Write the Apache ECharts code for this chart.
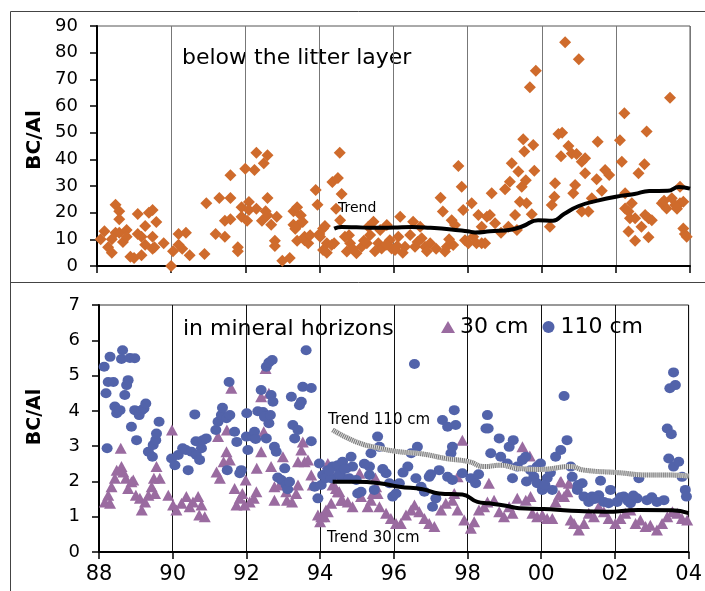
<!DOCTYPE html>
<html>
<head>
<meta charset="utf-8">
<script src="https://cdn.jsdelivr.net/npm/echarts@6/dist/echarts.min.js"></script>
<style>
  html, body { margin: 0; padding: 0; background: #fff; }
  #chart { width: 705px; height: 591px; }
</style>
</head>
<body>
<div id="chart"></div>
<script>
// year axis ticks (88 .. 04)
var yearTicks = [88, 90, 92, 94, 96, 98, 100, 102, 104];

// below the litter layer
var litterYear = [88.1, 88.2, 88.3, 88.4, 88.4, 88.5, 88.5, 88.6, 88.6, 88.6, 88.7, 88.8, 88.8, 88.9, 89.0, 89.1, 89.1, 89.2, 89.2, 89.3,
  89.3, 89.4, 89.5, 89.5, 89.5, 89.55, 89.6, 89.8, 90.0, 90.05, 90.2, 90.2, 90.3, 90.4, 90.5, 90.9, 90.95, 91.2, 91.3, 91.45,
  91.45, 91.6, 91.6, 91.6, 91.8, 91.8, 91.9, 91.9, 92.0, 92.05, 92.1, 92.1, 92.25, 92.3, 92.3, 92.45, 92.5, 92.55, 92.6, 92.6,
  92.6, 92.7, 92.8, 92.8, 92.85, 93.0, 93.2, 93.3, 93.3, 93.35, 93.4, 93.4, 93.43, 93.5, 93.55, 93.6, 93.6, 93.7, 93.75, 93.9,
  93.95, 94.0, 94.02, 94.1, 94.1, 94.15, 94.2, 94.2, 94.33, 94.35, 94.4, 94.45, 94.5, 94.55, 94.56, 94.6, 94.69, 94.74, 94.8, 94.83,
  95.0, 95.14, 95.28, 95.32, 95.37, 95.46, 95.59, 95.64, 95.68, 95.82, 95.9, 95.95, 96.04, 96.13, 96.18, 96.31, 96.45, 96.53, 96.58, 96.72,
  96.76, 96.85, 96.99, 97.27, 97.33, 97.39, 97.44, 97.57, 97.61, 97.66, 97.75, 97.84, 97.88, 97.93, 98.02, 98.11, 98.24, 98.29, 98.38, 98.38,
  98.47, 98.52, 98.6, 98.65, 98.74, 99.01, 99.1, 99.14, 99.19, 99.28, 99.33, 99.37, 99.41, 99.46, 99.5, 99.53, 99.57, 99.59, 99.68, 99.73,
  99.77, 99.8, 99.84, 100.22, 100.27, 100.34, 100.36, 100.45, 100.52, 100.55, 100.63, 100.72, 100.81, 100.85, 100.9, 100.94, 101.0, 101.08, 101.08, 101.17,
  101.17, 101.26, 101.35, 101.48, 101.51, 101.62, 101.71, 101.82, 102.11, 102.16, 102.23, 102.25, 102.25, 102.34, 102.34, 102.38, 102.43, 102.52, 102.52, 102.61,
  102.69, 102.77, 102.79, 102.83, 102.88, 102.88, 102.97, 103.24, 103.37, 103.46, 103.51, 103.6, 103.73, 103.73, 103.82, 103.82, 103.86, 103.91,
  94.9, 95.2, 95.5, 95.8, 96.1, 96.25, 96.65, 96.9, 97.15, 97.5, 98.15, 98.9, 103.3, 103.65];
var litterBC = [10, 13, 7, 5, 10, 23, 12.5, 20.5, 17.5, 12.5, 9, 13.5, 11, 3.5, 3, 19.5, 12, 11, 4, 8,
  15, 20, 21, 11, 6.5, 7, 16.5, 8.5, 0, 5.5, 8, 12, 6.5, 12.5, 4, 4.5, 23.5, 12, 25.5, 11,
  17, 17.5, 25.5, 34, 7, 5.5, 22, 18.5, 36.5, 17, 24, 21, 36, 42.5, 21.5, 17, 38.5, 20.5, 41.5, 25.5,
  19, 15.5, 9.5, 7.5, 18.5, 2, 3, 20.5, 15.5, 14, 22, 9.5, 15.4, 19, 16.5, 11, 9.7, 8.5, 11.5, 28.5,
  23, 12, 11, 6, 14.1, 15, 5, 8.5, 7.9, 31.5, 8.5, 21.5, 33, 42.5, 17.2, 27, 11, 5.4, 11.5, 8.5,
  4.8, 7.2, 8.5, 14.7, 11.6, 16.6, 8.5, 13.5, 6.6, 15.4, 9.7, 6.6, 6, 11, 18.5, 7.2, 11.6, 16.6, 7.2, 14.7,
  10.4, 7.2, 8.5, 25.6, 20.4, 5.4, 7.2, 17.2, 7.9, 15.4, 37.5, 29.7, 21, 9.7, 8.5, 23.5, 8.5, 19.1, 14.7, 8.5,
  8.5, 18.5, 19.1, 27.3, 16, 28.8, 14.7, 31.6, 38.5, 19.1, 13.5, 35.4, 24.1, 29.7, 47.5, 42.9, 32.2, 23.5, 67, 19.4,
  45.4, 35.7, 73.2, 14.7, 22.9, 26, 31, 49.5, 41.2, 50, 83.9, 45, 42.2, 27.3, 30.4, 42, 77.5, 39.1, 20.4, 40.4,
  34.8, 20.4, 25.4, 32.5, 46.6, 28.2, 36, 34.1, 47.2, 39.1, 57.3, 27.3, 21.6, 20.4, 12.9, 17.9, 23.5, 17.9, 9.5, 34.8,
  14.7, 38.2, 19.1, 50.4, 17.9, 10.8, 17.2, 23.5, 21.6, 63.1, 25.4, 22.9, 23.5, 29.7, 24.1, 14.1, 12, 11,
  6.5, 9.5, 5.5, 8, 7.5, 5, 9, 5.5, 6.5, 10, 11, 12.5, 24.5, 21.5];
var litterTrendYear = [94.4, 94.6, 95, 95.5, 96, 96.5, 97, 97.5, 98, 98.2, 98.6, 99.2, 99.5, 99.9, 100.3, 100.6, 101.0, 101.5, 102.0, 102.5, 102.9, 103.4, 103.7, 104];
var litterTrendBC = [14, 14.6, 14.5, 14.3, 14.4, 14.6, 14.3, 13.8, 13, 12.6, 13, 13.7, 15, 17.2, 17, 19.5, 22.5, 24.5, 26, 27, 28.1, 28.2, 29.6, 29];

// in mineral horizons, 30 cm
var m30Year = [88.16, 88.25, 88.3, 88.34, 88.43, 88.48, 88.59, 88.61, 88.66, 88.73, 88.79, 88.88, 88.93, 89.0, 89.11, 89.16, 89.25, 89.34, 89.43, 89.49,
  89.52, 89.56, 89.65, 89.88, 89.98, 90.01, 90.1, 90.24, 90.37, 90.46, 90.55, 90.69, 90.72, 90.78, 90.87, 91.19, 91.23, 91.28, 91.38, 91.46,
  91.47, 91.55, 91.59, 91.68, 91.73, 91.82, 91.89, 91.95, 91.98, 92.09, 92.2, 92.27, 92.28, 92.4, 92.4, 92.47, 92.52, 92.61, 92.67, 92.76,
  92.76, 92.9, 92.99, 93.08, 93.1, 93.24, 93.35, 93.4, 93.4, 93.49, 93.53, 93.58, 93.67, 93.76, 93.8, 93.94, 94.0, 94.03, 94.12, 94.16,
  94.21, 94.21, 94.3, 94.3, 94.34, 94.43, 94.48, 94.52, 94.57, 94.61, 94.75, 94.88, 95.07, 95.11, 95.29, 95.38, 95.43, 95.5, 95.52, 95.56,
  95.61, 95.79, 95.92, 96.06, 96.19, 96.33, 96.47, 96.56, 96.69, 96.83, 96.96, 97.1, 97.28, 97.41, 97.59, 97.64, 97.73, 97.73, 97.86, 97.91,
  98.09, 98.18, 98.31, 98.45, 98.54, 98.58, 98.72, 98.86, 98.99, 99.13, 99.22, 99.35, 99.49, 99.58, 99.69, 99.71, 99.76, 99.89, 100.03, 100.16,
  100.3, 100.39, 100.48, 100.52, 100.54, 100.62, 100.71, 100.75, 100.8, 100.89, 101.02, 101.16, 101.29, 101.43, 101.56, 101.7, 101.83, 102.01, 102.15, 102.28,
  102.42, 102.56, 102.69, 102.83, 102.96, 103.14, 103.28, 103.42, 103.56, 103.69, 103.82, 103.96];
var m30BC = [1.42, 1.61, 1.38, 1.85, 2.09, 2.32, 2.94, 2.42, 2.27, 2.09, 1.8, 1.99, 2.04, 1.61, 1.52, 1.19, 1.42, 1.61, 1.85, 2.09,
  1.66, 2.42, 2.09, 1.61, 3.46, 1.33, 1.19, 1.38, 1.57, 1.28, 1.42, 1.57, 1.05, 1.33, 1.0, 2.27, 3.27, 2.09, 2.56, 2.84,
  3.46, 2.61, 4.64, 1.8, 1.33, 1.52, 1.66, 1.33, 2.04, 1.42, 1.52, 1.71, 2.37, 2.84, 4.4, 3.41, 5.2, 4.5, 2.42, 1.85,
  1.47, 1.9, 2.7, 1.71, 1.47, 1.42, 1.66, 1.9, 2.56, 2.89, 3.12, 2.56, 2.61, 2.18, 1.9, 1.05, 0.86, 1.0, 1.0, 1.19,
  1.14, 2.51, 1.38, 2.2, 1.9, 1.8, 1.71, 1.71, 1.47, 1.47, 1.42, 1.28, 2.23, 1.57, 1.28, 1.47, 1.66, 2.1, 1.85, 1.66,
  1.28, 1.1, 0.95, 0.81, 0.81, 1.05, 1.19, 1.33, 1.14, 0.95, 0.81, 0.72, 1.19, 1.38, 1.47, 1.66, 1.19, 2.13, 3.17, 0.91,
  0.67, 0.86, 1.19, 1.28, 1.42, 1.95, 1.47, 1.14, 1.0, 1.28, 1.1, 1.52, 2.98, 1.47, 2.72, 1.57, 1.1, 1.0, 1.05, 0.95,
  0.95, 1.42, 1.61, 1.99, 1.99, 1.57, 1.71, 1.95, 0.91, 0.81, 0.62, 0.81, 1.1, 1.0, 1.28, 1.14, 0.95, 0.81, 0.95, 1.1,
  1.19, 0.81, 0.91, 0.72, 0.76, 0.62, 0.81, 1.0, 1.14, 1.1, 0.95, 0.91];

// in mineral horizons, 110 cm
var m110Year = [88.14, 88.19, 88.22, 88.25, 88.3, 88.39, 88.43, 88.48, 88.57, 88.61, 88.64, 88.7, 88.75, 88.79, 88.84, 88.88, 88.97, 88.97, 89.02, 89.09,
  89.16, 89.22, 89.27, 89.34, 89.45, 89.47, 89.54, 89.56, 89.63, 89.97, 90.06, 90.15, 90.27, 90.36, 90.42, 90.51, 90.6, 90.63, 90.64, 90.73,
  90.78, 90.82, 90.91, 91.17, 91.23, 91.32, 91.35, 91.46, 91.48, 91.53, 91.55, 91.68, 91.74, 91.82, 91.86, 92.0, 92.01, 92.04, 92.16, 92.22,
  92.25, 92.31, 92.4, 92.45, 92.49, 92.54, 92.54, 92.61, 92.61, 92.65, 92.67, 92.7, 92.72, 92.76, 92.81, 92.85, 92.95, 93.04, 93.08, 93.12,
  93.17, 93.22, 93.26, 93.31, 93.4, 93.44, 93.49, 93.53, 93.62, 93.76, 93.76, 93.85, 93.94, 93.98, 94.03, 94.07, 94.15, 94.21, 94.3, 94.34,
  94.43, 94.48, 94.57, 94.61, 94.71, 94.79, 94.84, 94.88, 94.98, 95.02, 95.11, 95.34, 95.34, 95.38, 95.47, 95.56, 95.61, 95.79, 95.88, 95.97,
  96.06, 96.15, 96.38, 96.47, 96.56, 96.6, 96.64, 96.74, 96.83, 96.96, 97.05, 97.14, 97.23, 97.32, 97.46, 97.46, 97.55, 97.59, 97.59, 97.64,
  97.68, 97.86, 98.09, 98.22, 98.5, 98.54, 98.56, 98.63, 98.86, 98.9, 99.08, 99.13, 99.22, 99.24, 99.35, 99.49, 99.58, 99.71, 99.8, 99.89,
  99.89, 99.98, 100.03, 100.16, 100.3, 100.39, 100.53, 100.62, 100.7, 100.8, 100.84, 100.98, 101.11, 101.16, 101.29, 101.38, 101.56, 101.61, 101.7, 101.83,
  101.88, 102.06, 102.24, 102.42, 102.6, 102.65, 102.87, 103.14, 103.33, 103.42, 103.46, 103.49, 103.53, 103.59, 103.59, 103.64, 103.73, 103.82, 103.91, 103.94,
  94.25, 94.52, 94.66, 95.2, 95.7, 96.25, 97.0, 98.3, 99.6, 100.1, 100.25, 101.0, 101.45, 102.15, 102.35, 102.5, 103.0];
var m110BC = [5.25, 4.5, 2.94, 4.82, 5.53, 4.82, 4.12, 3.93, 4.02, 5.47, 5.72, 4.45, 4.73, 4.87, 5.5, 3.55, 5.49, 4.02, 3.17, 3.88,
  4.02, 4.07, 4.21, 2.84, 2.7, 3.03, 3.17, 3.36, 3.69, 2.65, 2.46, 2.75, 2.94, 2.89, 2.32, 2.84, 3.9, 3.14, 2.75, 2.61,
  2.94, 3.17, 3.22, 3.46, 3.69, 3.88, 4.09, 3.79, 2.32, 4.82, 3.88, 3.41, 3.12, 2.23, 2.32, 3.27, 3.93, 2.89, 3.27, 3.41,
  3.2, 3.99, 4.59, 3.97, 3.83, 5.25, 3.22, 5.37, 3.65, 3.88, 4.45, 5.44, 4.26, 2.98, 2.84, 2.11, 2.04, 2.37, 1.9, 1.78,
  1.99, 4.4, 3.6, 3.22, 3.46, 4.16, 4.26, 4.68, 5.72, 4.65, 3.14, 1.85, 1.52, 2.51, 1.9, 2.18, 2.09, 2.32, 2.09, 2.42,
  2.42, 2.46, 2.13, 2.56, 2.37, 2.09, 2.7, 2.42, 2.04, 1.66, 1.71, 2.18, 2.42, 2.8, 1.76, 3.27, 2.98, 2.23, 1.95, 1.57,
  1.66, 1.95, 2.42, 2.8, 5.33, 2.09, 2.98, 1.85, 1.71, 2.13, 1.28, 1.52, 2.32, 3.74, 3.55, 2.13, 2.8, 2.98, 2.04, 4.02,
  3.6, 2.23, 2.09, 1.95, 3.5, 3.88, 3.5, 2.8, 3.22, 2.7, 2.51, 2.98, 2.09, 3.17, 2.42, 2.61, 2.7, 2.32, 2.13, 1.95,
  2.42, 2.51, 1.76, 2.09, 1.76, 2.7, 2.89, 4.42, 3.17, 2.42, 2.13, 1.76, 1.95, 1.57, 1.42, 1.57, 1.61, 2.02, 1.42, 1.38,
  1.76, 1.42, 1.57, 1.38, 1.52, 2.09, 1.47, 1.42, 1.47, 3.5, 2.65, 4.64, 3.34, 2.42, 5.09, 4.73, 2.56, 2.13, 1.76, 1.57,
  2.3, 2.2, 2.35, 2.5, 2.35, 2.25, 2.2, 2.2, 2.0, 1.9, 2.25, 1.9, 1.5, 1.55, 1.45, 1.6, 1.55];

var trend110Year = [94.34, 94.98, 95.61, 96.15, 96.78, 97.41, 98.04, 98.45, 98.9, 99.35, 99.98, 100.8, 101.16, 102.06, 102.96, 103.5, 104];
var trend110BC = [3.46, 3.12, 2.94, 2.84, 2.78, 2.65, 2.56, 2.42, 2.46, 2.37, 2.34, 2.42, 2.32, 2.25, 2.18, 2.18, 2.15];
var trend30Year = [94.34, 94.98, 95.61, 96.15, 96.78, 97.23, 97.86, 98.27, 98.58, 99.04, 99.4, 99.94, 100.25, 101.02, 101.74, 102.64, 103.55, 104];
var trend30BC = [1.99, 1.99, 1.95, 1.85, 1.78, 1.66, 1.63, 1.42, 1.38, 1.31, 1.24, 1.22, 1.21, 1.16, 1.14, 1.19, 1.18, 1.1];

function pairs(xs, ys) {
  return xs.map(function(x, i) { return [x, ys[i]]; });
}

var FONT = '"DejaVu Sans", Verdana, sans-serif';

function yearAxis(gridIndex, showLabels, gridColor) {
  return {
    type: 'value', gridIndex: gridIndex,
    min: yearTicks[0], max: yearTicks[yearTicks.length - 1], interval: 2,
    axisLine: { lineStyle: { color: '#000', width: 2 } },
    axisTick: { show: true, length: 7, lineStyle: { color: '#000', width: 1.5 } },
    axisLabel: {
      show: showLabels, margin: 12, fontSize: 21, color: '#000', fontFamily: FONT,
      formatter: function(v) { return ('0' + (v % 100)).slice(-2); }
    },
    splitLine: { show: true, lineStyle: { color: gridColor, width: 1 } }
  };
}

function bcAxis(gridIndex, max, interval) {
  return {
    type: 'value', gridIndex: gridIndex, min: 0, max: max, interval: interval,
    axisLine: { show: true, lineStyle: { color: '#000', width: 2 } },
    axisTick: { show: true, length: 7, lineStyle: { color: '#000', width: 1.5 } },
    axisLabel: { margin: 19, fontSize: 18, color: '#000', fontFamily: FONT },
    splitLine: { show: false }
  };
}

var chart = echarts.init(document.getElementById('chart'));

chart.setOption({
  backgroundColor: '#fff',
  animation: false,
  grid: [
    { left: 97, right: 15, top: 26, height: 240, show: true, borderColor: '#555', borderWidth: 1 },
    { left: 99, right: 15, top: 305, height: 247, show: true, borderColor: '#333', borderWidth: 1 }
  ],
  xAxis: [yearAxis(0, false, '#777'), yearAxis(1, true, '#111')],
  yAxis: [bcAxis(0, 90, 10), bcAxis(1, 7, 1)],
  legend: {
    data: ['30 cm', '110 cm'],
    left: 441, top: 316, padding: 0,
    itemWidth: 14, itemHeight: 12, itemGap: 14,
    textStyle: { fontSize: 22, color: '#000', fontFamily: FONT }
  },
  series: [
    {
      name: 'below the litter layer', type: 'scatter', xAxisIndex: 0, yAxisIndex: 0,
      symbol: 'diamond', symbolSize: 12,
      itemStyle: { color: '#CF6B2C', opacity: 1 },
      data: pairs(litterYear, litterBC)
    },
    {
      name: 'Trend', type: 'line', xAxisIndex: 0, yAxisIndex: 0, smooth: true,
      showSymbol: false, lineStyle: { color: '#000', width: 4 },
      data: pairs(litterTrendYear, litterTrendBC), z: 5
    },
    {
      name: '30 cm', type: 'scatter', xAxisIndex: 1, yAxisIndex: 1,
      symbol: 'triangle', symbolSize: [12, 11],
      itemStyle: { color: '#9A6BA0', opacity: 1 },
      data: pairs(m30Year, m30BC)
    },
    {
      name: '110 cm', type: 'scatter', xAxisIndex: 1, yAxisIndex: 1,
      symbol: 'circle', symbolSize: [11, 10],
      itemStyle: { color: '#5263AA', opacity: 1 },
      data: pairs(m110Year, m110BC)
    },
    {
      name: 'Trend 110 base', type: 'line', xAxisIndex: 1, yAxisIndex: 1, smooth: true,
      showSymbol: false, lineStyle: { color: '#dcdcdc', width: 5 },
      data: pairs(trend110Year, trend110BC), z: 5
    },
    {
      name: 'Trend 110 cm', type: 'line', xAxisIndex: 1, yAxisIndex: 1, smooth: true,
      showSymbol: false, lineStyle: { color: '#777', width: 5, type: [1, 1], cap: 'butt' },
      data: pairs(trend110Year, trend110BC), z: 6
    },
    {
      name: 'Trend 30 cm', type: 'line', xAxisIndex: 1, yAxisIndex: 1, smooth: true,
      showSymbol: false, lineStyle: { color: '#000', width: 4 },
      data: pairs(trend30Year, trend30BC), z: 6
    }
  ],
  graphic: [
    // outer frames of both panels
    { type: 'rect', shape: { x: 10.5, y: 11.5, width: 700, height: 271 }, style: { fill: 'none', stroke: '#444', lineWidth: 1 }, silent: true },
    { type: 'line', shape: { x1: 10.5, y1: 282, x2: 10.5, y2: 600 }, style: { stroke: '#444', lineWidth: 1 }, silent: true },
    // axis titles
    { type: 'text', x: 35, y: 140, rotation: Math.PI / 2,
      style: { text: 'BC/Al', font: 'bold 20px ' + FONT, fill: '#000', align: 'center', verticalAlign: 'middle' } },
    { type: 'text', x: 35, y: 417, rotation: Math.PI / 2,
      style: { text: 'BC/Al', font: 'bold 19px ' + FONT, fill: '#000', align: 'center', verticalAlign: 'middle' } },
    // panel captions
    { type: 'text', x: 182, y: 58,
      style: { text: 'below the litter layer', font: '22px ' + FONT, fill: '#000', verticalAlign: 'middle' } },
    { type: 'text', x: 183, y: 329,
      style: { text: 'in mineral horizons', font: '22px ' + FONT, fill: '#000', verticalAlign: 'middle' } },
    // trend labels
    { type: 'text', x: 338, y: 208, z: 10,
      style: { text: 'Trend', font: '14px ' + FONT, fill: '#000', verticalAlign: 'middle' } },
    { type: 'text', x: 328, y: 420, z: 10,
      style: { text: 'Trend 110 cm', font: '15px ' + FONT, fill: '#000', verticalAlign: 'middle' } },
    { type: 'text', x: 327, y: 538, z: 10,
      style: { text: 'Trend 30 cm', font: '15px ' + FONT, fill: '#000', verticalAlign: 'middle' } }
  ]
});
</script>
</body>
</html>
